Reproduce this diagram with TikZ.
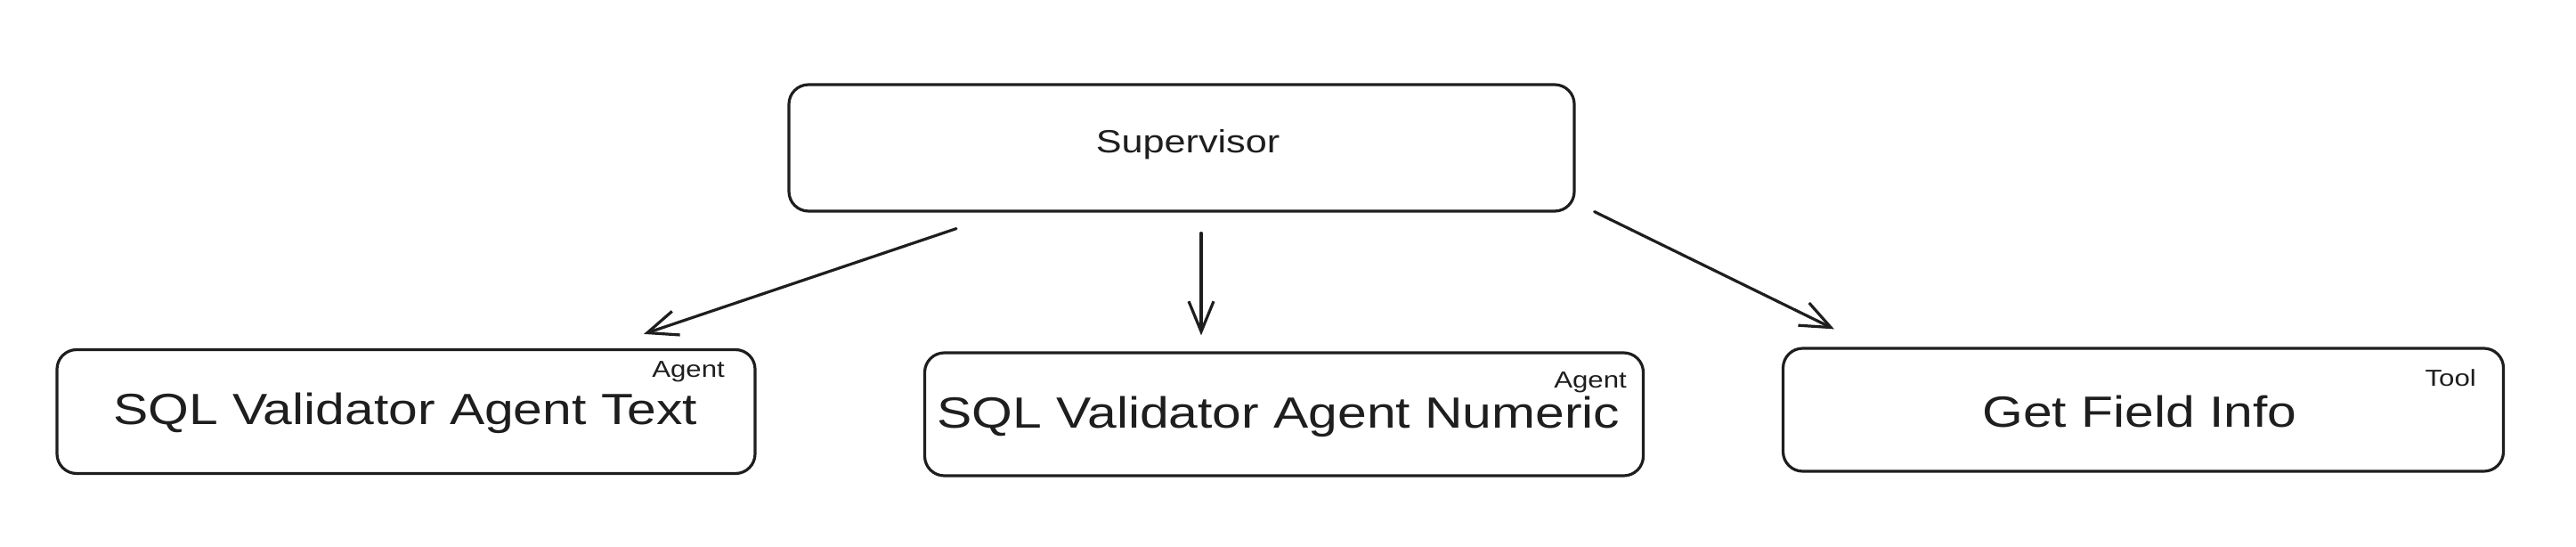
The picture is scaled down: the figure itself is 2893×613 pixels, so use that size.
\documentclass[tikz,border=0pt]{standalone}
\usepackage{fontspec}
\setmainfont{Liberation Sans}[FakeStretch=1.2]
\usetikzlibrary{arrows.meta,calc}
\definecolor{ink}{HTML}{1E1E1E}
\tikzset{
  box/.style={draw=ink, line width=3.2pt, rounded corners=22pt, fill=white, inner sep=0pt},
  maintext/.style={text=ink, font=\fontsize{49}{59}\selectfont},
  suptext/.style={text=ink, font=\fontsize{36}{44}\selectfont},
  tag/.style={text=ink, font=\fontsize{26}{32}\selectfont, inner sep=0pt},
  arr/.style={draw=ink, line width=3.2pt, line cap=round,
    -{Straight Barb[length=34pt,width=28pt,line width=3.2pt]}},
}
\begin{document}
\begin{tikzpicture}[x=1pt,y=-1pt]
  \useasboundingbox (0,0) rectangle (2893,613);
  \fill[white] (0,0) rectangle (2893,613);
  % boxes
  \node[box, minimum width=882pt, minimum height=142pt] (sup) at (1327,166) {};
  \node[box, minimum width=784pt, minimum height=139pt] (left) at (456,462) {};
  \node[box, minimum width=807pt, minimum height=138pt] (mid) at (1442,465) {};
  \node[box, minimum width=809pt, minimum height=138pt] (right) at (2407,460) {};
  % texts
  \node[suptext] (suptxt) at (1334,162) {Supervisor};
  \node[maintext] (lefttxt) at (455,464) {SQL Validator Agent Text};
  \node[maintext] (midtxt) at (1436,468) {SQL Validator Agent Numeric};
  \node[maintext] (righttxt) at (2403,462) {Get Field Info};
  % tags
  \node[tag, anchor=east] (lefttag) at (814,417) {Agent};
  \node[tag, anchor=east] (midtag) at (1827,429) {Agent};
  \node[tag, anchor=east] (righttag) at (2781,424) {Tool};
  % connectors
  \draw[arr] ($(sup.south)+(-253,18)$) -- ($(left.north)+(267,-16)$);
  \draw[arr] ($(sup.south)+(22,23)$) -- ($(mid.north)+(-93,-18)$);
  \draw[arr] ($(sup.south east)+(21,-1)$) -- ($(right.north west)+(59,-20)$);
\end{tikzpicture}
\end{document}
